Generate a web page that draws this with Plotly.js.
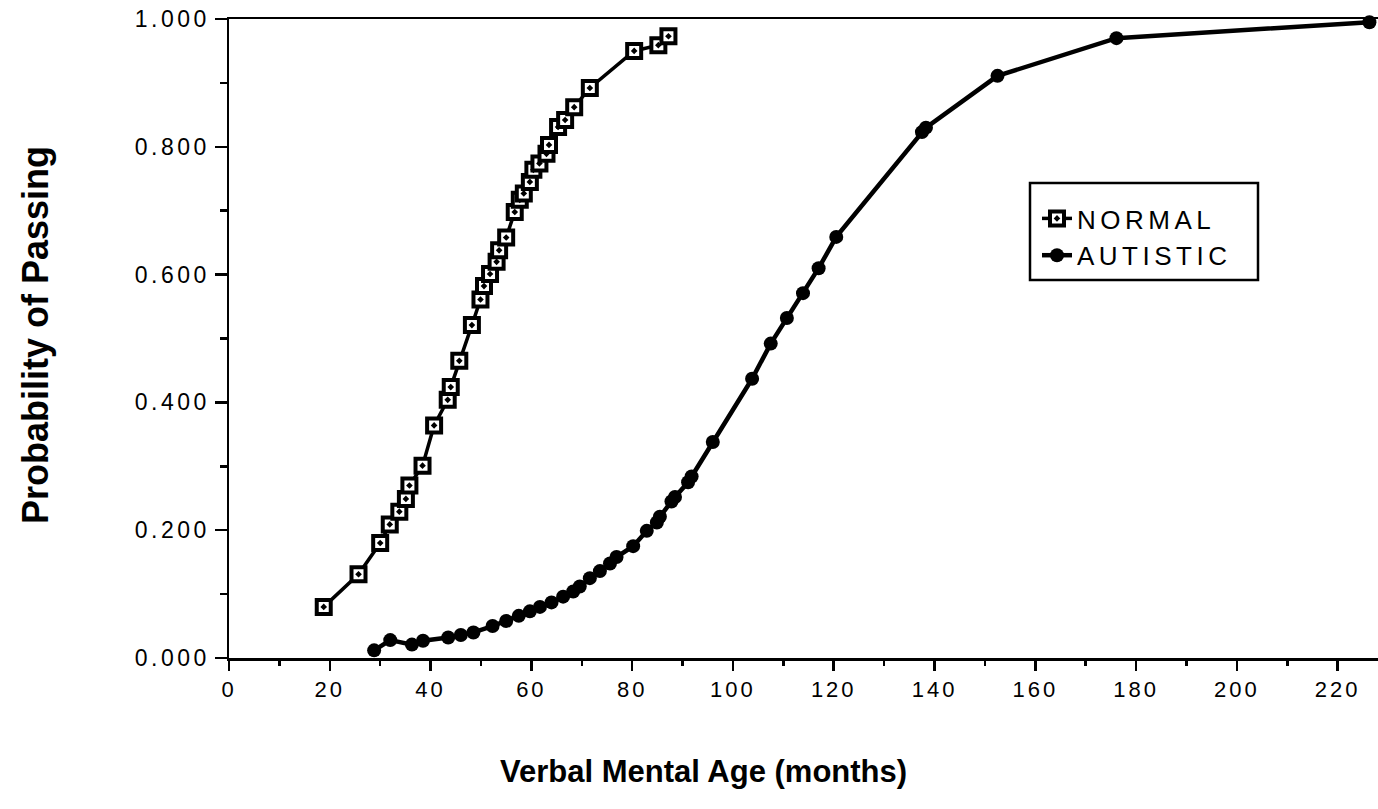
<!DOCTYPE html>
<html>
<head>
<meta charset="utf-8">
<script src="https://cdn.plot.ly/plotly-3.0.1.min.js"></script>
<style>
  html, body { margin: 0; padding: 0; background: #fff; }
  #chart { width: 1378px; height: 809px; }
  .xtick text { letter-spacing: 3px; }
  .ytick text { letter-spacing: 3.5px; }
  .legendtext { letter-spacing: 4.5px; }
</style>
</head>
<body>
<div id="chart"></div>
<script>
// Verbal mental age (months) and probability of passing
const normalAge = [18.8, 25.7, 30.0, 31.9, 33.8, 35.1, 35.8, 38.4, 40.7, 43.4, 44.0, 45.7,
  48.2, 49.9, 50.6, 51.8, 53.1, 53.6, 55.0, 56.7, 57.7, 58.5, 59.7, 60.4, 61.6, 63.0,
  63.5, 65.3, 66.7, 68.5, 71.6, 80.4, 85.2, 87.2];
const normalProb = [0.080, 0.131, 0.180, 0.209, 0.229, 0.249, 0.270, 0.301, 0.364, 0.404, 0.424, 0.465,
  0.521, 0.561, 0.582, 0.601, 0.620, 0.638, 0.658, 0.698, 0.717, 0.727, 0.745, 0.764, 0.774, 0.789,
  0.803, 0.831, 0.842, 0.862, 0.892, 0.950, 0.959, 0.973];

const autisticAge = [28.8, 32.0, 36.3, 38.5, 43.5, 46.0, 48.5, 52.3, 55.0, 57.5, 59.7, 61.7,
  64.0, 66.3, 68.3, 69.6, 71.6, 73.6, 75.6, 76.9, 80.2, 82.9, 84.9, 85.5, 87.8, 88.5,
  91.1, 91.8, 96.0, 103.8, 107.5, 110.7, 113.9, 117.0, 120.5, 137.5, 138.3, 152.5, 176.1, 226.3];
const autisticProb = [0.012, 0.028, 0.021, 0.027, 0.032, 0.036, 0.040, 0.050, 0.058, 0.066, 0.073, 0.080,
  0.087, 0.096, 0.104, 0.112, 0.125, 0.136, 0.148, 0.158, 0.175, 0.199, 0.212, 0.221, 0.245, 0.252,
  0.275, 0.284, 0.338, 0.437, 0.492, 0.532, 0.571, 0.610, 0.659, 0.823, 0.830, 0.911, 0.970, 0.995];

const seriesNames = ['NORMAL', 'AUTISTIC'];
const xTitle = 'Verbal Mental Age (months)';
const yTitle = 'Probability of Passing';

const FONT = 'Liberation Sans, Arial, Helvetica, sans-serif';

const traces = [
  {
    x: normalAge, y: normalProb, name: seriesNames[0], type: 'scatter', mode: 'lines+markers',
    line: { color: '#000', width: 3.5 },
    marker: { symbol: 'square-dot', size: 14, color: '#fff', line: { color: '#000', width: 4 } },
    cliponaxis: false
  },
  {
    x: autisticAge, y: autisticProb, name: seriesNames[1], type: 'scatter', mode: 'lines+markers',
    line: { color: '#000', width: 4.5 },
    marker: { symbol: 'circle', size: 14, color: '#000' },
    cliponaxis: false
  }
];

const layout = {
  width: 1378, height: 809,
  margin: { l: 229, r: 0, t: 19, b: 151 },
  paper_bgcolor: '#fff', plot_bgcolor: '#fff',
  showlegend: true,
  font: { family: FONT, color: '#000' },
  xaxis: {
    range: [0, 228], dtick: 20, tick0: 0,
    showgrid: false, zeroline: false,
    showline: true, linecolor: '#000', linewidth: 2.5, mirror: true,
    ticks: 'outside', ticklen: 10, tickwidth: 2.5, tickcolor: '#000',
    minor: { dtick: 10, ticks: 'outside', ticklen: 5, tickwidth: 2.5, tickcolor: '#000', showgrid: false },
    tickfont: { size: 22, family: FONT },
    automargin: false
  },
  yaxis: {
    range: [0, 1], dtick: 0.2, tick0: 0, tickformat: '.3f',
    showgrid: false, zeroline: false,
    showline: true, linecolor: '#000', linewidth: 2.5,
    ticks: 'outside', ticklen: 12, tickwidth: 2.5, tickcolor: '#000',
    minor: { dtick: 0.1, ticks: 'outside', ticklen: 7, tickwidth: 2.5, tickcolor: '#000', showgrid: false },
    tickfont: { size: 23, family: FONT },
    automargin: false
  },
  annotations: [
    {
      text: xTitle, xref: 'paper', yref: 'paper',
      x: (703 - 229) / 1149, y: (658 - 771) / 639, xanchor: 'center', yanchor: 'middle',
      showarrow: false, font: { size: 31, family: FONT, weight: 'bold' }
    },
    {
      text: yTitle, xref: 'paper', yref: 'paper', textangle: -90,
      x: (35 - 229) / 1149, y: (658 - 335) / 639, xanchor: 'center', yanchor: 'middle',
      showarrow: false, font: { size: 36, family: FONT, weight: 'bold' }
    }
  ],
  shapes: [
    {
      type: 'rect', xref: 'paper', yref: 'paper',
      x0: (1030 - 229) / 1149, x1: (1258 - 229) / 1149,
      y0: (658 - 280) / 639, y1: (658 - 183) / 639,
      line: { color: '#000', width: 2.5 }, fillcolor: 'rgba(0,0,0,0)'
    }
  ],
  legend: {
    x: (1037 - 229) / 1149, y: (658 - 195) / 639, xanchor: 'left', yanchor: 'top',
    bgcolor: 'rgba(0,0,0,0)', borderwidth: 0,
    font: { size: 26, family: FONT }
  }
};

Plotly.newPlot('chart', traces, layout, { staticPlot: true, displayModeBar: false });
</script>
</body>
</html>
